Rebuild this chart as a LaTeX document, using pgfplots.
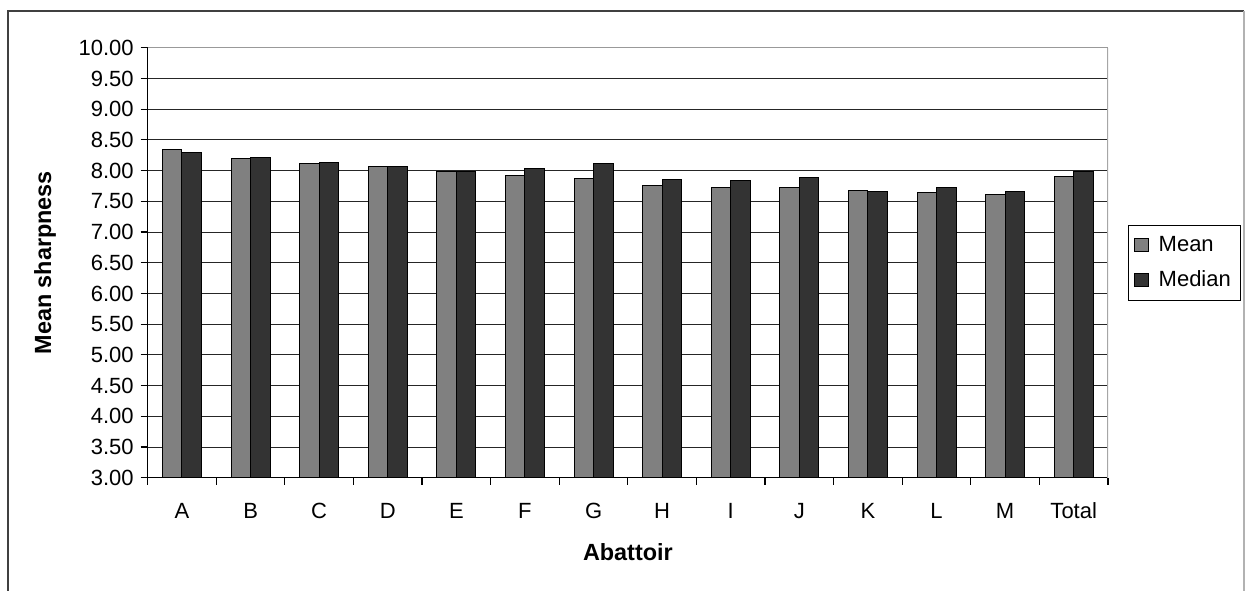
\documentclass[border=0pt]{standalone}
\usepackage{pgfplots}
\pgfplotsset{compat=1.18}
\usepackage{pgfplotstable}
\usepackage{fontspec}
\setmainfont{Liberation Sans}

\definecolor{meanfill}{HTML}{808080}
\definecolor{medianfill}{HTML}{333333}

% Sharpness per abattoir: mean and median
\pgfplotstableread{
idx mean median
0  8.35 8.30
1  8.19 8.22
2  8.11 8.13
3  8.06 8.06
4  7.99 7.99
5  7.92 8.03
6  7.87 8.11
7  7.75 7.86
8  7.72 7.84
9  7.72 7.88
10 7.68 7.66
11 7.64 7.73
12 7.61 7.66
13 7.91 7.98
}\sharpness

\begin{document}
\begin{tikzpicture}
\useasboundingbox (0pt,0pt) rectangle (622.5pt,-295pt);
% outer chart frame
\draw[black!75,line width=1pt] (3.75pt,-300pt) -- (3.75pt,-5.5pt) -- (622pt,-5.5pt);
\draw[black!30,line width=0.8pt] (622pt,-5.5pt) -- (622pt,-300pt);
\begin{axis}[
  at={(73.85pt,-238.85pt)}, anchor=south west,
  scale only axis, width=480.15pt, height=215pt,
  ymin=3, ymax=10, ytick={3,3.5,...,10},
  xmin=-0.5, xmax=13.5,
  xtick={-0.5,0.5,...,13.5}, xticklabels={},
  extra x ticks={0,1,...,13},
  extra x tick labels={A,B,C,D,E,F,G,H,I,J,K,L,M,Total},
  extra x tick style={major tick length=0pt, grid=none,
    xticklabel style={yshift=-9pt, text height=8pt, text depth=0pt}},
  axis x line*=bottom, axis y line*=left,
  axis line style={black, line width=0.6pt},
  tick align=outside, major tick length=3.5pt,
  tick style={black, line width=0.6pt},
  ymajorgrids, major grid style={black!85, line width=0.5pt},
  ticklabel style={font=\fontsize{11}{13}\selectfont},
  yticklabel style={/pgf/number format/.cd, fixed, fixed zerofill, precision=2, assume math mode=true},
  ylabel={Mean sharpness}, xlabel={Abattoir},
  every axis y label/.style={at={(axis description cs:-0.1069,0.5)}, rotate=90, anchor=center,
    font=\fontsize{11.7}{14}\selectfont\bfseries},
  every axis x label/.style={at={(axis description cs:0.5,-0.1728)}, anchor=center,
    font=\fontsize{11.7}{14}\selectfont\bfseries},
  ybar=0pt, bar width=9.75pt,
  legend style={at={(1.0208,0.5)}, anchor=west, draw=black, line width=0.5pt,
    font=\fontsize{11}{13}\selectfont, inner xsep=3pt, inner ysep=3.5pt, row sep=4pt},
  legend cell align=left,
  legend image code/.code={\draw[#1, line width=0.5pt] (0pt,-3.3pt) rectangle (6.6pt,3.3pt);
    \path (9.6pt,0pt);},
]
\addplot[fill=meanfill, draw=black, line width=0.5pt] table[x=idx, y=mean] {\sharpness};
\addplot[fill=medianfill, draw=black, line width=0.5pt] table[x=idx, y=median] {\sharpness};
\legend{Mean, Median}
\draw[black!35, line width=0.6pt] (rel axis cs:1,0) -- (rel axis cs:1,1);
\draw[black!40, line width=0.6pt] (rel axis cs:0,1) -- (rel axis cs:1,1);
\end{axis}
\end{tikzpicture}
\end{document}
